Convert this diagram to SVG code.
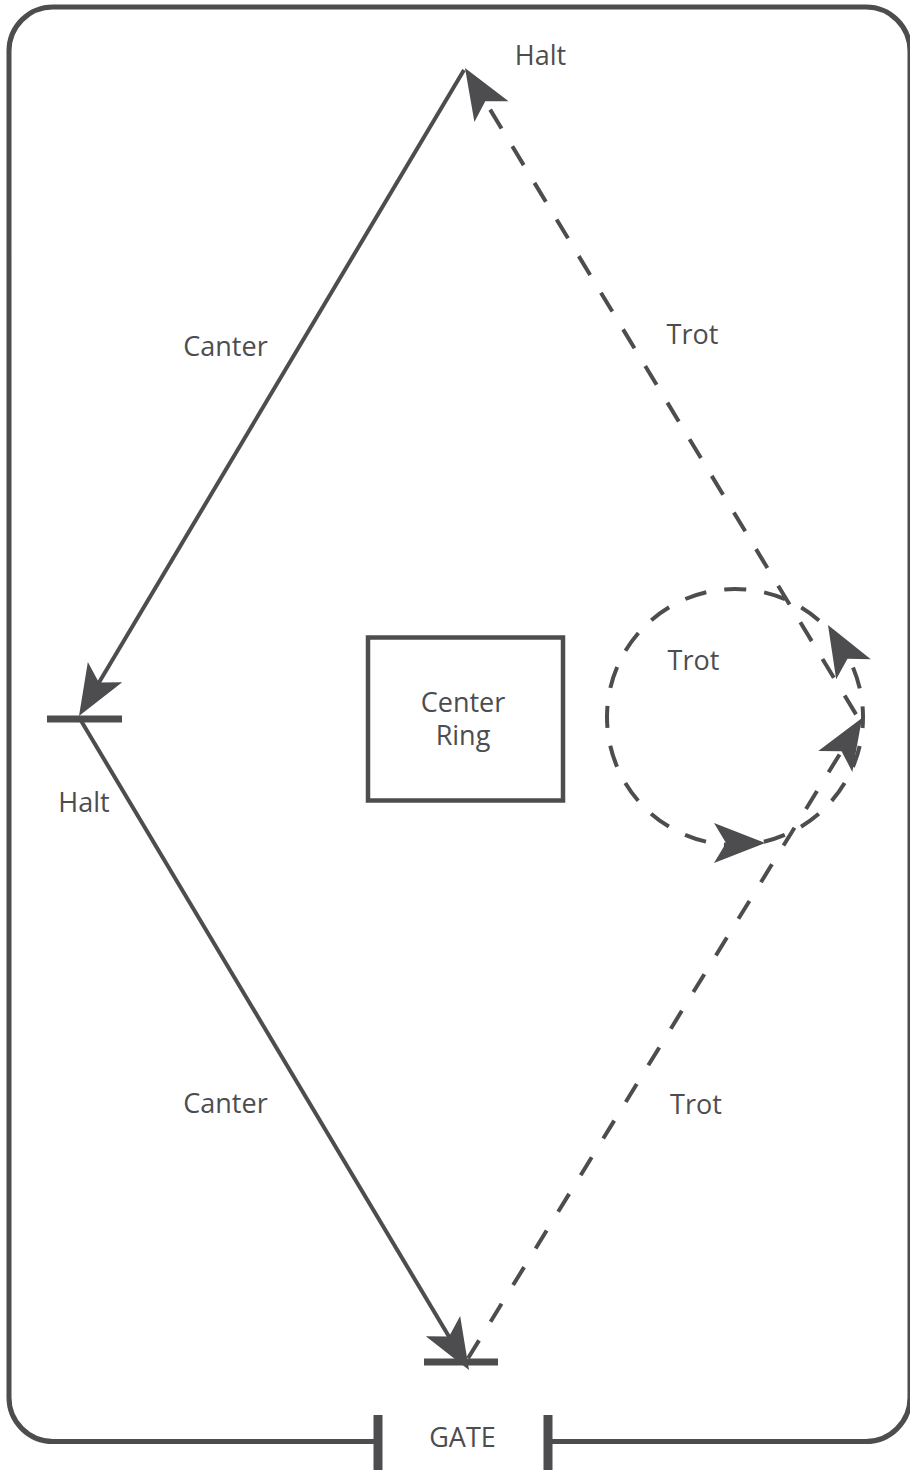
<svg xmlns="http://www.w3.org/2000/svg" xmlns:xlink="http://www.w3.org/1999/xlink" width="910" height="1470" viewBox="0 0 910 1470">
<style>
.ln{fill:none;stroke:#4d4d4f;stroke-width:4}
.dl{fill:none;stroke:#4d4d4f;stroke-width:4;stroke-dasharray:21 22}
.bar{fill:none;stroke:#4d4d4f;stroke-width:7}
.post{fill:none;stroke:#4d4d4f;stroke-width:9}
.txt{font-family:"Open Sans","Liberation Sans",sans-serif;font-size:27px;fill:#4d4d4f;text-anchor:middle}
</style>
<defs>
<path id="ah" d="M0,0 L-51,-20 L-39,0 L-51,20 Z" fill="#4d4d4f"/>
</defs>
<rect width="910" height="1470" fill="#ffffff"/>
<g id="arena">
<path d="M378,1441.5 L53,1441.5 A44,44 0 0 1 9,1397.5 L9,51 A44,44 0 0 1 53,7 L866,7 A44,44 0 0 1 910,51 L910,1397.5 A44,44 0 0 1 866,1441.5 L548,1441.5" fill="none" stroke="#4d4d4f" stroke-width="5"/>
</g>
<g id="gate">
<line class="post" x1="378" y1="1415" x2="378" y2="1470"/>
<line class="post" x1="548" y1="1415" x2="548" y2="1470"/>
<text class="txt" x="462.5" y="1446.5">GATE</text>
</g>
<g id="center-ring">
<rect x="368" y="637.5" width="195" height="163" fill="none" stroke="#4d4d4f" stroke-width="4.5"/>
<text class="txt" x="463" y="712">Center</text>
<text class="txt" x="463" y="745">Ring</text>
</g>
<g id="halt-top">
<text class="txt" x="540.5" y="65">Halt</text>
</g>
<g id="halt-left">
<line class="bar" x1="47" y1="719" x2="122" y2="719"/>
<text class="txt" x="84" y="812">Halt</text>
</g>
<g id="halt-gate">
<line class="bar" x1="424" y1="1362" x2="498" y2="1362"/>
</g>
<g id="trot-circle">
<circle cx="735" cy="717" r="128" fill="none" stroke="#4d4d4f" stroke-width="4" stroke-dasharray="22 18.212" stroke-dashoffset="11"/>
<text class="txt" x="693.5" y="669.5">Trot</text>
</g>
<g id="connectors">
<line class="ln" x1="464" y1="70" x2="85" y2="706"/>
<line class="ln" x1="80" y1="719" x2="463" y2="1360"/>
<line class="dl" x1="471" y1="78" x2="857" y2="716" style="stroke-dasharray:22 20.8;stroke-dashoffset:5.8"/>
<line class="dl" x1="855.7" y1="728.2" x2="467" y2="1360" style="stroke-dashoffset:12.2"/>
<use xlink:href="#ah" transform="translate(465,68) rotate(238.7)"/>
<use xlink:href="#ah" transform="translate(79,716) rotate(120.7)"/>
<use xlink:href="#ah" transform="translate(469,1370) rotate(59.3)"/>
<use xlink:href="#ah" transform="translate(862,718) rotate(-58.4)"/>
<use xlink:href="#ah" transform="translate(765,843) rotate(0)"/>
<use xlink:href="#ah" transform="translate(828,625) rotate(-120)"/>
<text class="txt" x="225.5" y="356">Canter</text>
<text class="txt" x="692.5" y="344">Trot</text>
<text class="txt" x="225.5" y="1113">Canter</text>
<text class="txt" x="696" y="1114">Trot</text>
</g>
</svg>
